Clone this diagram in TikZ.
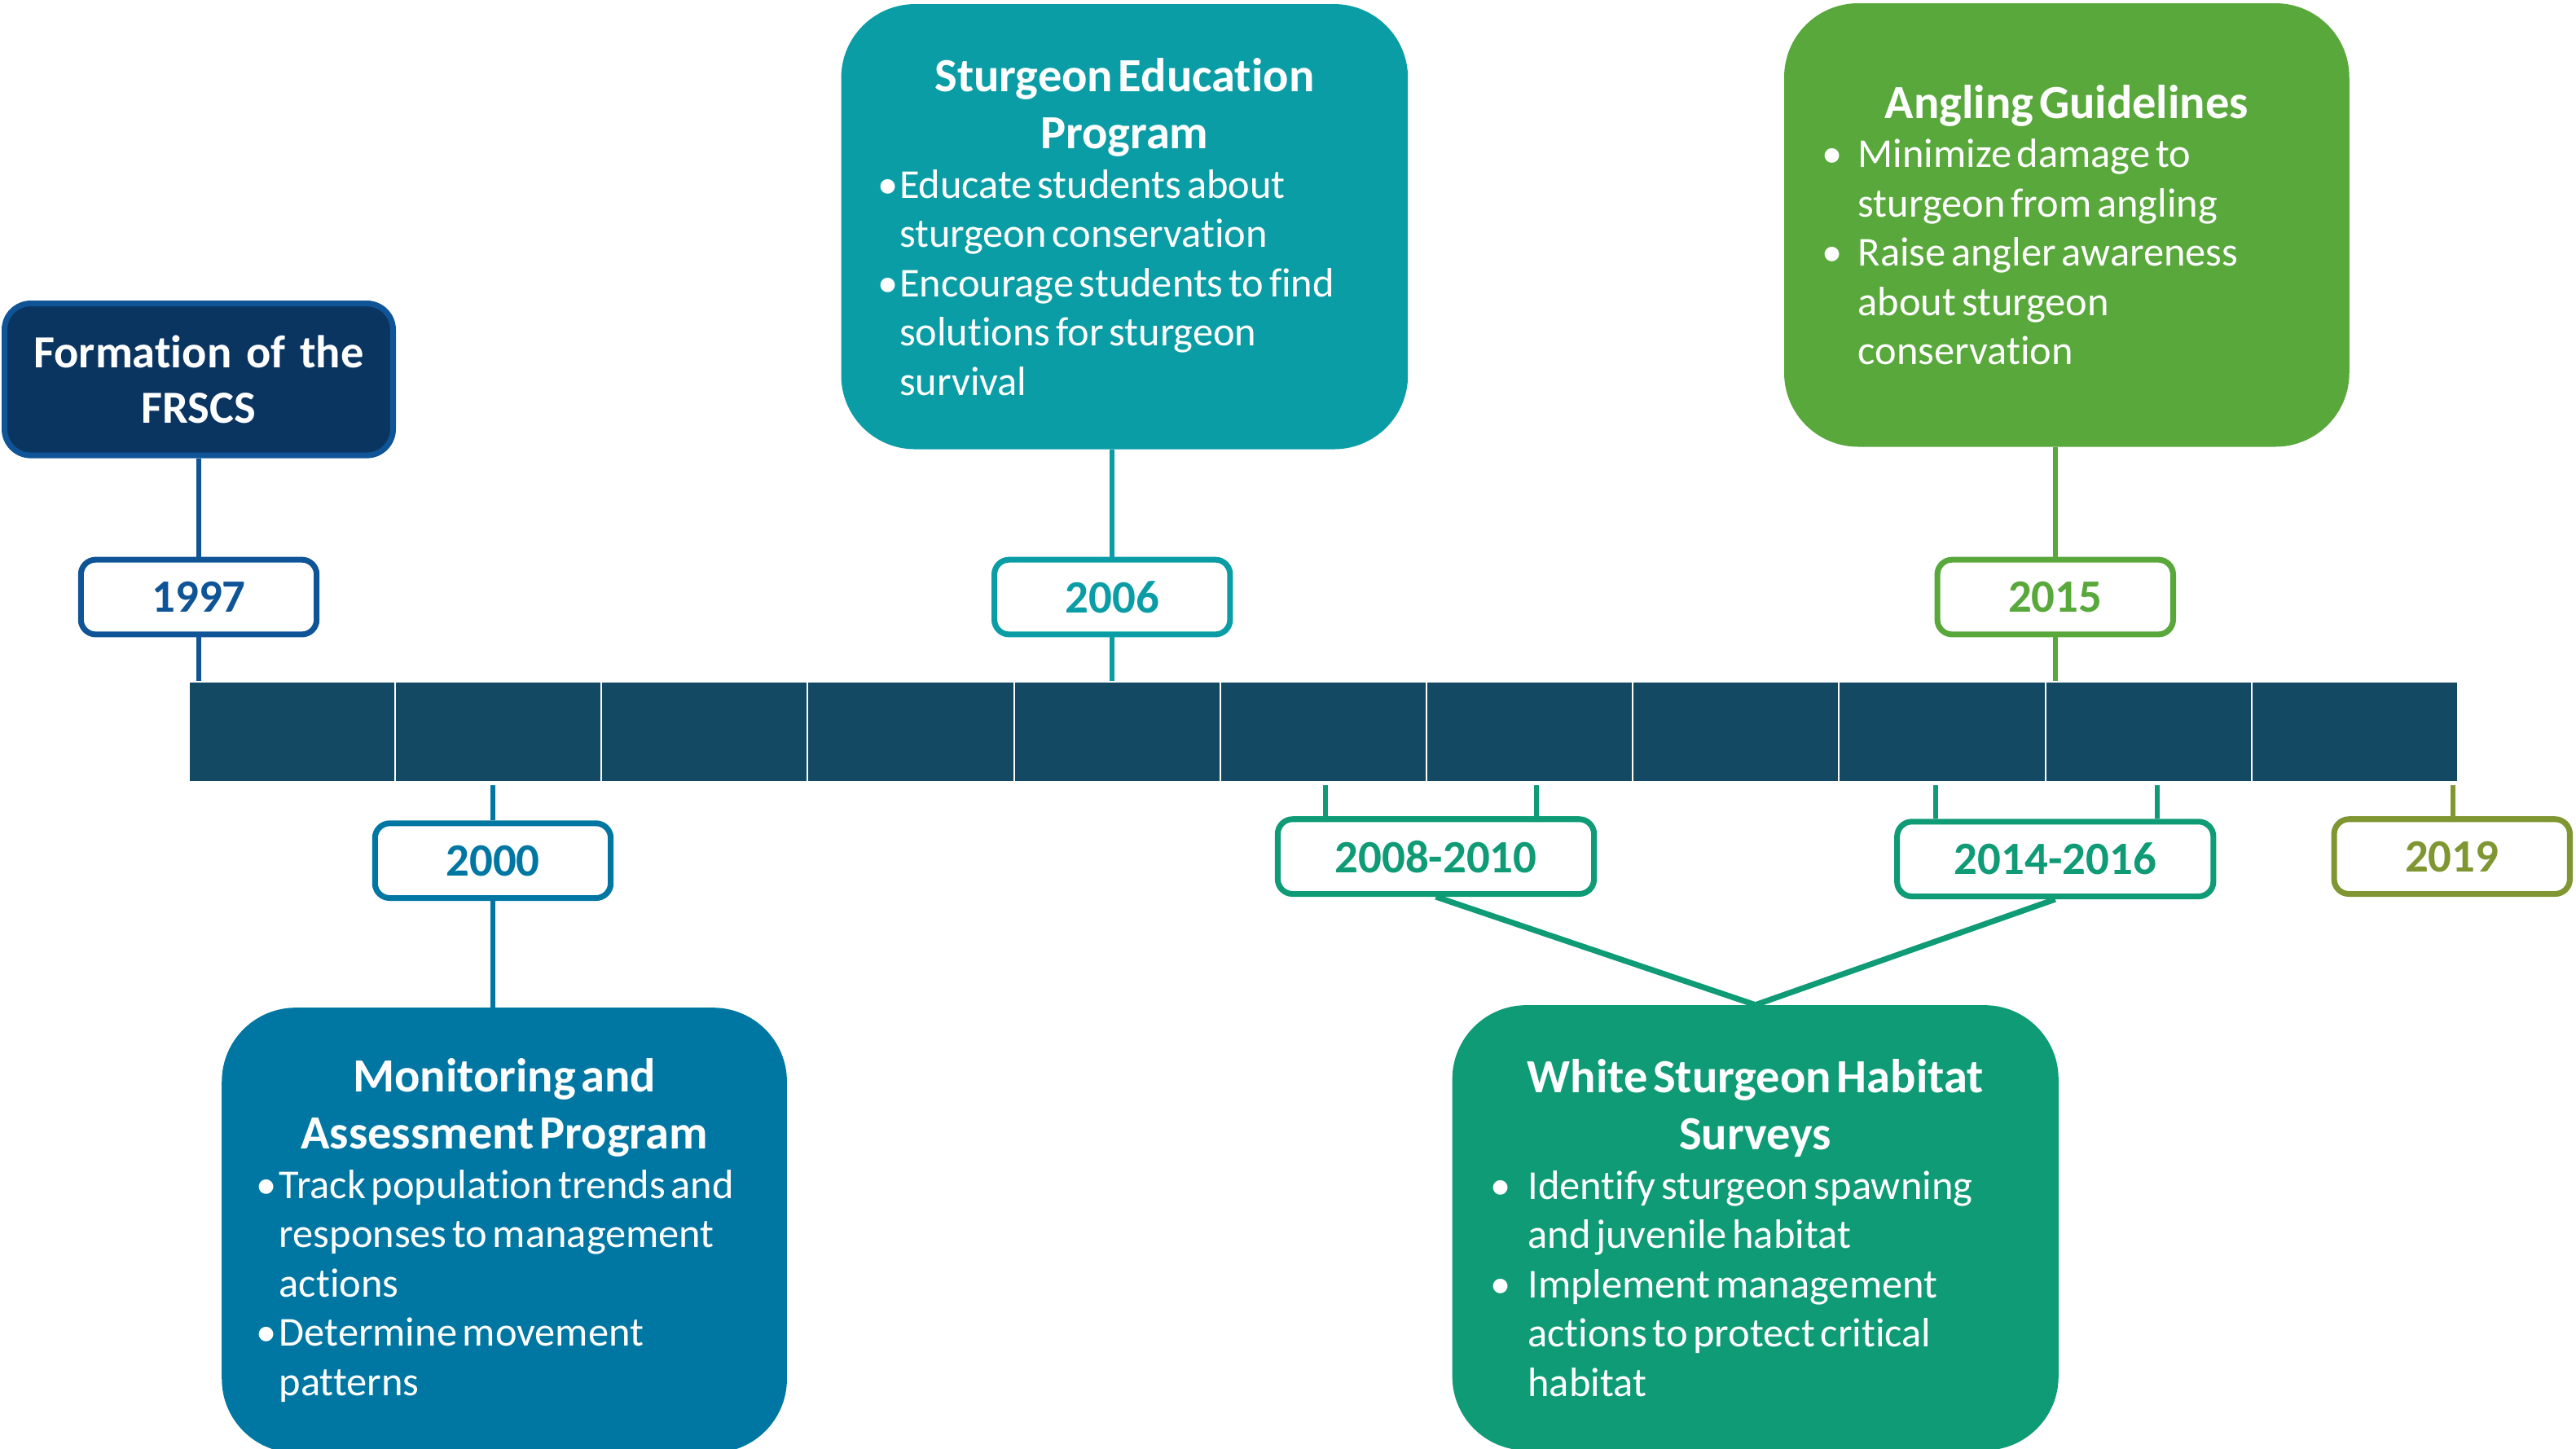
\documentclass[tikz,border=0pt]{standalone}
\usepackage{fontspec}
\setmainfont{Carlito}[Ligatures=NoCommon,WordSpace=1.4]
\usetikzlibrary{positioning}
\definecolor{navy}{HTML}{0B3561}
\definecolor{fblue}{HTML}{0F5496}
\definecolor{mblue}{HTML}{0077A3}
\definecolor{steal}{HTML}{0B9DA5}
\definecolor{hgreen}{HTML}{0E9B75}
\definecolor{agreen}{HTML}{58A83B}
\definecolor{olive}{HTML}{7F9632}
\definecolor{barblue}{HTML}{134963}
\tikzstyle{seg}=[rectangle,fill=barblue,draw=white,line width=1pt,minimum width=125.55pt,minimum height=61pt,inner sep=0pt]
\tikzstyle{yearbox}=[rectangle,draw,fill=white,rounded corners=9pt,line width=3.5pt,minimum width=143.5pt,minimum height=45.5pt,inner sep=0pt,font=\bfseries\fontsize{28.2}{30}\selectfont]
\tikzstyle{eventbox}=[rectangle,rounded corners=45pt,minimum height=271pt,inner sep=0pt,text=white]
\tikzstyle{conn}=[line width=3pt]
\newcommand{\evtitle}[1]{{\centering\bfseries\fontsize{29}{35}\selectfont #1\par}}
\newcommand{\bul}[2]{{\raggedright\fontsize{25}{30}\selectfont\hangindent=#1\hangafter=1\noindent\makebox[#1][l]{\textbullet}#2\par}}
\begin{document}
\begin{tikzpicture}
  [x=1pt,y=-1pt]
\useasboundingbox (0,0) rectangle (1568,882);
% timeline bar
\foreach \i in {0,...,10}
  \node[seg] (s\i) at ({177.775+125.55*\i},445.5) {};
% years above
\node[yearbox,draw=fblue,text=fblue] (y1997) at (121,363.5) {1997};
\node[yearbox,draw=steal,text=steal] (y2006) at (677,363.5) {2006};
\node[yearbox,draw=agreen,text=agreen] (y2015) at (1251,363.5) {2015};
% years below
\node[yearbox,draw=mblue,text=mblue] (y2000) at (300,524) {2000};
\node[yearbox,draw=hgreen,text=hgreen,minimum width=192.5pt] (y0810) at (874,521.5) {2008-2010};
\node[yearbox,draw=hgreen,text=hgreen,minimum width=192.5pt] (y1416) at (1251,523) {2014-2016};
\node[yearbox,draw=olive,text=olive] (y2019) at (1492.5,521.5) {2019};
% events
\node[draw=fblue,fill=navy,line width=3.5pt,rounded corners=16pt,minimum width=236.5pt,minimum height=92.5pt,
  text=white,align=center,font=\bfseries\fontsize{28}{34}\selectfont] (frm) at (121,231) {Formation of the\\FRSCS};
\node[eventbox,fill=steal,minimum width=345pt,text width=300pt] (sep) at (684.5,138)
  {\evtitle{Sturgeon Education\\Program}%
   \bul{13pt}{Educate students about\newline sturgeon conservation}%
   \bul{13pt}{Encourage students to find\newline solutions for sturgeon\newline survival}};
\node[eventbox,fill=agreen,minimum width=344pt,minimum height=270pt,text width=298pt] (ang) at (1258,137)
  {\evtitle{Angling Guidelines}%
   \bul{22pt}{Minimize damage to\newline sturgeon from angling}%
   \bul{22pt}{Raise angler awareness\newline about sturgeon\newline conservation}};
\node[eventbox,fill=mblue,minimum width=344pt,text width=302pt] (map) at (307,749)
  {\evtitle{Monitoring and\\Assessment Program}%
   \bul{14pt}{Track population trends and\newline responses to management\newline actions}%
   \bul{14pt}{Determine movement\newline patterns}};
\node[eventbox,fill=hgreen,minimum width=369pt,text width=323pt] (wsh) at (1068.5,747.5)
  {\evtitle{White Sturgeon Habitat\\Surveys}%
   \bul{23pt}{Identify sturgeon spawning\newline and juvenile habitat}%
   \bul{23pt}{Implement management\newline actions to protect critical\newline habitat}};
% tick points under the bar
\coordinate (t1) at (807,478);
\coordinate (t2) at (935,478);
\coordinate (t3) at (1178,478);
\coordinate (t4) at (1313,478);
\coordinate (t5) at (1493,478);
% connectors
\draw[conn,fblue] (frm) -- (y1997);
\draw[conn,fblue] (y1997) -- (y1997 |- s0.north);
\draw[conn,steal] (y2006.north) -- (y2006.north |- sep.south);
\draw[conn,steal] (y2006) -- (y2006 |- s4.north);
\draw[conn,agreen] (y2015.north) -- (y2015.north |- ang.south);
\draw[conn,agreen] (y2015) -- (y2015 |- s9.north);
\draw[conn,mblue] (y2000.north |- 0,478) -- (y2000.north);
\draw[conn,mblue] (y2000.south) -- (y2000.south |- map.north);
\draw[conn,hgreen] (t1) -- (t1 |- y0810.north);
\draw[conn,hgreen] (t2) -- (t2 |- y0810.north);
\draw[conn,hgreen] (t3) -- (t3 |- y1416.north);
\draw[conn,hgreen] (t4) -- (t4 |- y1416.north);
\draw[conn,olive] (t5) -- (t5 |- y2019.north);
\draw[conn,hgreen,line width=3.5pt] (y0810.south) -- (wsh.north);
\draw[conn,hgreen,line width=3.5pt] (y1416.south) -- (wsh.north);
\end{tikzpicture}
\end{document}
